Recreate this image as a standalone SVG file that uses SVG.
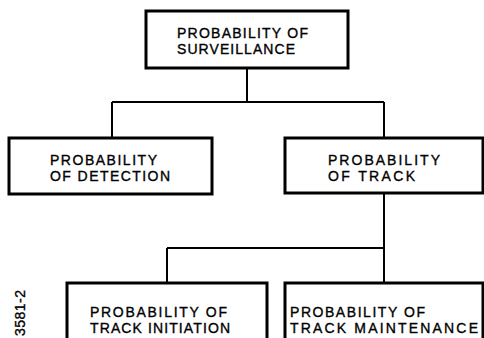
<svg xmlns="http://www.w3.org/2000/svg" width="484" height="338" viewBox="0 0 484 338">
<style>
.box{fill:#fff;stroke:#000;stroke-width:3}
.c{fill:none;stroke:#000;stroke-width:2}
text{font-family:"Liberation Sans",Arial,sans-serif;font-size:14px;fill:#000;stroke:#000;stroke-width:0.35}
</style>
<rect width="484" height="338" fill="#fff"/>
<g id="connectors">
<path class="c" d="M247 68V102M112 102H384M112 102V138M384 102V138"/>
<path class="c" d="M384 193V283M167 248H384M167 248V283"/>
</g>
<g id="surveillance">
<rect class="box" x="146" y="11" width="202" height="57"/>
<text x="177" y="38" textLength="131" lengthAdjust="spacing">PROBABILITY OF</text>
<text x="177" y="54" textLength="118" lengthAdjust="spacing">SURVEILLANCE</text>
</g>
<g id="detection">
<rect class="box" x="9" y="138" width="203" height="56"/>
<text x="50" y="165" textLength="107" lengthAdjust="spacing">PROBABILITY</text>
<text x="50" y="181" textLength="120" lengthAdjust="spacing">OF DETECTION</text>
</g>
<g id="track">
<rect class="box" x="285" y="138" width="198" height="55"/>
<text x="328" y="165" textLength="112" lengthAdjust="spacing">PROBABILITY</text>
<text x="328" y="181" textLength="87" lengthAdjust="spacing">OF TRACK</text>
</g>
<g id="initiation">
<rect class="box" x="67" y="283" width="200" height="58"/>
<text x="90" y="317" textLength="137" lengthAdjust="spacing">PROBABILITY OF</text>
<text x="90" y="333" textLength="140" lengthAdjust="spacing">TRACK INITIATION</text>
</g>
<g id="maintenance">
<rect class="box" x="285" y="283" width="198" height="58"/>
<text x="290" y="317" textLength="135" lengthAdjust="spacing">PROBABILITY OF</text>
<text x="290" y="333" textLength="188" lengthAdjust="spacing">TRACK MAINTENANCE</text>
</g>
<text transform="translate(25 336) rotate(-90)" font-size="15" textLength="46" lengthAdjust="spacing">3581-2</text>
</svg>
